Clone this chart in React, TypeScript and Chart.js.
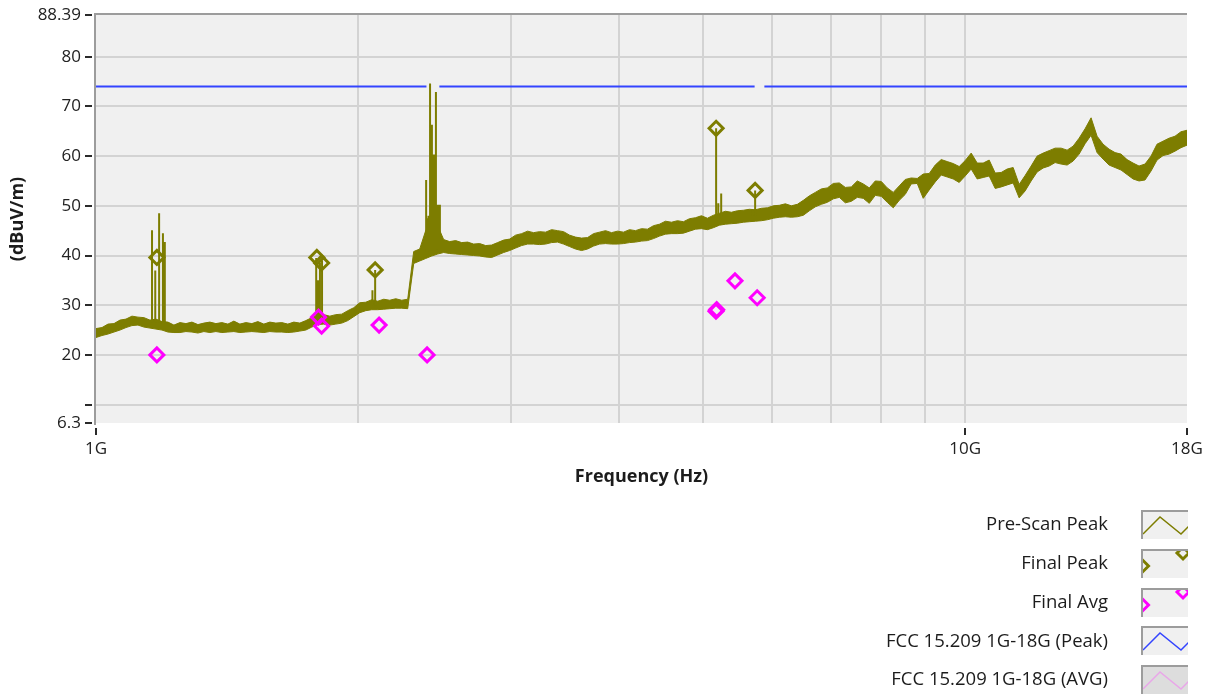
import { useEffect, useRef } from 'react';
import { Chart, registerables } from 'chart.js';

Chart.register(...registerables);

// ---- sweep settings -------------------------------------------------------
const START_HZ = 1e9;
const STOP_HZ = 18e9;
const GHZ = 1e9;

// Pre-scan peak trace: upper and lower edge of the swept band (dBuV/m),
// one value per sweep point; sweep points are spaced evenly in log frequency.
const preScanUpper = [
  25.3, 25.5, 26.2, 26.3, 27.0, 27.2, 27.8, 27.6, 27.5, 27.0,
  27.2, 26.7, 26.6, 26.0, 26.5, 26.3, 26.6, 26.1, 26.4, 26.6,
  26.3, 26.5, 26.2, 26.8, 26.2, 26.5, 26.3, 26.7, 26.2, 26.6,
  26.4, 26.5, 26.2, 26.6, 26.4, 26.9, 27.5, 28.0, 28.1, 27.8,
  28.1, 28.2, 28.9, 29.5, 30.5, 30.6, 31.1, 30.8, 31.2, 31.0,
  31.3, 31.0, 31.2, 40.8, 41.3, 45.0, 47.0, 46.0, 43.2, 42.8,
  43.0, 42.6, 42.7, 42.3, 42.4, 42.0, 42.1, 42.6, 43.1, 43.3,
  44.1, 44.4, 44.9, 44.6, 44.8, 44.7, 45.2, 45.0, 44.8, 44.1,
  43.7, 43.5, 43.6, 44.4, 44.7, 45.0, 44.6, 44.9, 44.7, 45.2,
  45.0, 45.4, 45.3, 46.0, 46.3, 46.9, 46.7, 47.0, 46.8, 47.4,
  47.6, 48.0, 47.5, 48.1, 48.5, 48.9, 48.7, 49.0, 49.1, 49.3,
  49.2, 49.5, 49.6, 50.0, 50.1, 50.4, 50.0, 50.3, 51.1, 52.0,
  52.7, 53.4, 53.6, 54.5, 54.6, 53.7, 53.8, 55.0, 54.4, 53.6,
  55.0, 54.9, 53.6, 52.7, 54.0, 55.3, 55.6, 55.5, 56.4, 56.5,
  58.2, 59.3, 58.9, 58.5, 57.9, 59.1, 60.6, 58.6, 58.6, 59.2,
  56.6, 56.7, 57.4, 57.7, 54.3, 56.1, 58.0, 60.0, 60.6, 61.1,
  61.6, 61.6, 61.2, 62.0, 63.6, 65.5, 67.7, 64.0, 62.4, 61.4,
  60.7, 60.4, 59.3, 58.6, 58.0, 58.4, 60.0, 62.4, 63.0, 63.6,
  64.0, 64.9, 65.2,
];

const preScanLower = [
  23.5, 23.9, 24.2, 24.6, 25.0, 25.5, 25.9, 26.0, 25.6, 25.4,
  25.2, 25.0, 24.6, 24.5, 24.5, 24.7, 24.6, 24.4, 24.7, 24.5,
  24.7, 24.5, 24.6, 24.7, 24.5, 24.6, 24.7, 24.6, 24.5, 24.7,
  24.6, 24.6, 24.5, 24.6, 24.8, 25.0, 25.6, 26.1, 26.2, 26.0,
  26.2, 26.4, 26.9, 27.7, 28.5, 28.9, 29.1, 29.1, 29.2, 29.3,
  29.4, 29.4, 29.3, 38.4, 38.9, 39.4, 39.9, 40.3, 40.6, 40.4,
  40.3, 40.2, 40.1, 40.0, 39.9, 39.7, 39.6, 40.1, 40.6, 41.0,
  41.5, 42.0, 42.3, 42.3, 42.2, 42.3, 42.6, 42.7, 42.3, 41.8,
  41.3, 41.0, 41.3, 41.9, 42.3, 42.4, 42.3, 42.3, 42.4, 42.6,
  42.7, 42.9, 43.0, 43.4, 43.9, 44.3, 44.4, 44.4, 44.5, 44.9,
  45.3, 45.4, 45.2, 45.6, 46.1, 46.3, 46.4, 46.5, 46.7, 46.8,
  46.9, 47.0, 47.2, 47.5, 47.7, 47.8, 47.7, 47.8, 48.1, 49.0,
  49.8, 50.3, 50.7, 51.4, 51.7, 50.6, 50.9, 51.7, 51.5, 50.5,
  52.1, 51.9, 50.7, 49.6, 51.1, 52.3, 54.4, 54.5, 51.5, 53.2,
  54.8, 56.2, 55.8, 55.4, 54.7, 56.0, 57.4, 55.4, 55.7, 56.0,
  53.5, 53.8, 54.2, 54.6, 51.6, 53.0, 55.0, 56.8, 57.6, 58.0,
  58.7, 58.4, 58.2, 59.0, 60.4, 62.5, 64.2, 60.7, 59.4, 58.2,
  57.7, 57.2, 56.3, 55.4, 55.0, 55.2, 57.0, 59.2, 60.1, 60.4,
  61.0, 61.7, 62.2,
];

// Narrow emissions standing out of the pre-scan floor
const spikeFreqGHz = [
  1.160, 1.170, 1.182, 1.194, 1.200,
  1.792, 1.801, 1.810, 1.820,
  2.080, 2.095,
  2.398, 2.405, 2.413, 2.423, 2.430, 2.435, 2.442, 2.448, 2.455, 2.461, 2.468, 2.474, 2.480, 2.487,
  5.170, 5.200, 5.240, 5.696, 5.733,
];
const spikeFloor = [
  26.5, 26.5, 26.5, 26.2, 26.2,
  26.5, 26.8, 27.0, 27.0,
  30.0, 30.0,
  40.5, 40.5, 40.8, 41.0, 41.0, 41.0, 41.0, 41.0, 41.0, 41.0, 41.2, 41.5, 41.5, 41.5,
  46.8, 47.0, 47.3, 48.0, 48.0,
];
const spikeTop = [
  45.1, 37.0, 48.5, 44.5, 42.7,
  39.5, 35.0, 38.5, 39.0,
  33.0, 37.1,
  55.2, 47.5, 48.0, 74.6, 49.0, 66.3, 47.8, 60.3, 48.5, 72.9, 47.5, 50.2, 46.5, 50.2,
  65.6, 50.5, 52.5, 49.1, 53.1,
];

// Final measurements
const finalPeakFreqGHz = [1.175, 1.795, 1.818, 2.095, 5.170, 5.733];
const finalPeakLevel = [39.6, 39.6, 38.5, 37.1, 65.6, 53.1];

const finalAvgFreqGHz = [1.175, 1.803, 1.818, 2.117, 2.404, 5.168, 5.178, 5.435, 5.764];
const finalAvgLevel = [20.0, 27.6, 25.8, 26.0, 20.0, 28.8, 29.1, 34.9, 31.5];

// FCC 15.209 limits (gaps where the limit line is not defined)
const limitPeakFreqGHz = [1, 2.4, 2.4, 2.4835, 5.725, 5.725, 5.875, 18];
const limitPeakLevel = [74, 74, null, 74, 74, null, 74, 74];
const limitAvgFreqGHz = [1, 18];
const limitAvgLevel = [54, 54];

// Axis ticks
const xGridGHz = [1, 2, 3, 4, 5, 6, 7, 8, 9, 10, 18];
const xGridLabels = ['1G', '', '', '', '', '', '', '', '', '10G', '18G'];
const xMarkedGHz = [1, 10, 18];
const yTickValues = [6.3, 10, 20, 30, 40, 50, 60, 70, 80, 88.39];
const yTickLabels = ['6.3', '', '20', '30', '40', '50', '60', '70', '80', '88.39'];

const legendLabels = [
  'Pre-Scan Peak',
  'Final Peak',
  'Final Avg',
  'FCC 15.209 1G-18G (Peak)',
  'FCC 15.209 1G-18G (AVG)',
];

// ---- styling --------------------------------------------------------------
const FONT = '"Open Sans", "Noto Sans", sans-serif';
const OLIVE = '#7d7d00';
const MAGENTA = '#ff00ff';
const BLUE = '#3344ff';
const PINK = '#e9a6e9';
const PLOT_BG = '#f0f0f0';
const GRID = '#d3d3d3';
const FRAME = '#9c9c9c';
const TEXT = '#1c1c1c';
const TRANSPARENT = 'rgba(0,0,0,0)';

const legendKinds = [
  { kind: 'line', color: OLIVE, dim: false },
  { kind: 'marker', color: OLIVE, dim: false },
  { kind: 'marker', color: MAGENTA, dim: false },
  { kind: 'line', color: BLUE, dim: false },
  { kind: 'line', color: PINK, dim: true },
];

const plotFrame = {
  id: 'plotFrame',
  beforeDraw(chart: any) {
    const { ctx, chartArea: a } = chart;
    ctx.save();
    ctx.fillStyle = PLOT_BG;
    ctx.fillRect(a.left, a.top, a.right - a.left, a.bottom - a.top);
    ctx.restore();
  },
  beforeDatasetsDraw(chart: any) {
    const { ctx, chartArea: a } = chart;
    ctx.save();
    ctx.strokeStyle = FRAME;
    ctx.lineWidth = 2;
    ctx.beginPath();
    ctx.moveTo(a.left - 1, a.bottom + 2);
    ctx.lineTo(a.left - 1, a.top - 1);
    ctx.lineTo(a.right, a.top - 1);
    ctx.stroke();
    ctx.restore();
  },
};

// Short dashes next to the labelled ticks, set off from the plot edge
const tickMarks = {
  id: 'tickMarks',
  afterDraw(chart: any) {
    const { ctx, chartArea: a, scales } = chart;
    ctx.save();
    ctx.fillStyle = '#2a2a2a';
    for (const v of yTickValues) {
      const y = Math.round(scales.y.getPixelForValue(v));
      ctx.fillRect(a.left - 11, y - 1, 7, 2);
    }
    for (const g of xMarkedGHz) {
      const x = Math.round(scales.x.getPixelForValue(g * GHZ));
      ctx.fillRect(x - 1, a.bottom + 5, 2, 7);
    }
    ctx.restore();
  },
};

function diamond(ctx: CanvasRenderingContext2D, cx: number, cy: number, r: number) {
  ctx.beginPath();
  ctx.moveTo(cx, cy - r);
  ctx.lineTo(cx + r, cy);
  ctx.lineTo(cx, cy + r);
  ctx.lineTo(cx - r, cy);
  ctx.closePath();
  ctx.stroke();
}

// Legend: right-aligned names with a small sunken swatch box on the right
const legendPanel = {
  id: 'legendPanel',
  afterDraw(chart: any) {
    const ctx: CanvasRenderingContext2D = chart.ctx;
    const textRight = 1108;
    const bx = 1141;
    const bw = 47;
    const bh = 29;
    ctx.save();
    legendLabels.forEach((label, k) => {
      const cy = 525 + k * 38.75;
      const style = legendKinds[k];
      ctx.font = `18.5px ${FONT}`;
      ctx.textAlign = 'right';
      ctx.textBaseline = 'middle';
      ctx.fillStyle = TEXT;
      ctx.fillText(label, textRight, cy);

      const by = Math.round(cy - 15);
      ctx.fillStyle = style.dim ? '#dddddd' : PLOT_BG;
      ctx.fillRect(bx, by, bw, bh);
      ctx.strokeStyle = FRAME;
      ctx.lineWidth = 2;
      ctx.beginPath();
      ctx.moveTo(bx + 1, by + bh);
      ctx.lineTo(bx + 1, by + 1);
      ctx.lineTo(bx + bw, by + 1);
      ctx.stroke();

      ctx.save();
      ctx.beginPath();
      ctx.rect(bx + 2, by + 2, bw - 2, bh - 2);
      ctx.clip();
      ctx.strokeStyle = style.color;
      if (style.kind === 'line') {
        ctx.lineWidth = 1.5;
        ctx.beginPath();
        ctx.moveTo(bx + 2, by + 24);
        ctx.lineTo(bx + 19, by + 7);
        ctx.lineTo(bx + 40, by + 24);
        ctx.lineTo(bx + 48, by + 16);
        ctx.stroke();
      } else {
        ctx.lineWidth = 3;
        diamond(ctx, bx + 1, by + 17, 6.5);
        diamond(ctx, bx + 42, by + 4, 6);
      }
      ctx.restore();
    });
    ctx.restore();
  },
};

// Keep the plot rectangle fixed: no extra room reserved for end labels
function noEndPadding(scale: any) {
  scale.paddingLeft = 0;
  scale.paddingRight = 0;
  scale.paddingTop = 0;
  scale.paddingBottom = 0;
}

export default function App() {
  const canvasRef = useRef<HTMLCanvasElement | null>(null);

  useEffect(() => {
    const canvas = canvasRef.current;
    if (!canvas) return;

    const n = preScanUpper.length;
    const sweepHz = preScanUpper.map((_, i) => START_HZ * Math.pow(STOP_HZ / START_HZ, i / (n - 1)));
    const upperPts = preScanUpper.map((v, i) => ({ x: sweepHz[i], y: v }));
    const lowerPts = preScanLower.map((v, i) => ({ x: sweepHz[i], y: v }));

    const spikePts: { x: number; y: number | null }[] = [];
    spikeFreqGHz.forEach((f, i) => {
      spikePts.push({ x: f * GHZ, y: spikeFloor[i] });
      spikePts.push({ x: f * GHZ, y: spikeTop[i] });
      spikePts.push({ x: f * GHZ, y: null });
    });

    const peakPts = finalPeakFreqGHz.map((f, i) => ({ x: f * GHZ, y: finalPeakLevel[i] }));
    const avgPts = finalAvgFreqGHz.map((f, i) => ({ x: f * GHZ, y: finalAvgLevel[i] }));
    const limitPts = limitPeakFreqGHz.map((f, i) => ({ x: f * GHZ, y: limitPeakLevel[i] }));
    const limitAvgPts = limitAvgFreqGHz.map((f, i) => ({ x: f * GHZ, y: limitAvgLevel[i] }));

    const markerStyle = (color: string) => ({
      showLine: false,
      pointStyle: 'rectRot' as const,
      pointRadius: 7,
      pointBorderWidth: 3,
      pointBorderColor: color,
      pointBackgroundColor: TRANSPARENT,
      borderColor: color,
      backgroundColor: TRANSPARENT,
    });

    const chart = new Chart(canvas, {
      type: 'line',
      data: {
        datasets: [
          { label: legendLabels[2], data: avgPts, order: 0, ...markerStyle(MAGENTA) },
          { label: legendLabels[1], data: peakPts, order: 1, ...markerStyle(OLIVE) },
          {
            label: legendLabels[3],
            data: limitPts,
            order: 2,
            borderColor: BLUE,
            borderWidth: 2,
            pointRadius: 0,
            spanGaps: false,
            fill: false,
          },
          {
            label: legendLabels[4],
            data: limitAvgPts,
            order: 3,
            hidden: true,
            borderColor: PINK,
            borderWidth: 2,
            pointRadius: 0,
            fill: false,
          },
          {
            label: 'Pre-Scan Peak spikes',
            data: spikePts,
            order: 4,
            borderColor: OLIVE,
            borderWidth: 2,
            pointRadius: 0,
            spanGaps: false,
            fill: false,
          },
          {
            label: legendLabels[0],
            data: upperPts,
            order: 5,
            borderColor: OLIVE,
            borderWidth: 1,
            backgroundColor: OLIVE,
            pointRadius: 0,
            fill: '+1',
          },
          {
            label: 'Pre-Scan Peak lower',
            data: lowerPts,
            order: 6,
            borderColor: OLIVE,
            borderWidth: 1,
            pointRadius: 0,
            fill: false,
          },
        ],
      },
      options: {
        animation: false,
        responsive: false,
        maintainAspectRatio: false,
        layout: { padding: { top: 15, right: 25, bottom: 206, left: 0 } },
        plugins: {
          legend: { display: false },
          tooltip: { enabled: false },
        },
        scales: {
          x: {
            type: 'logarithmic',
            min: START_HZ,
            max: STOP_HZ,
            afterFit(scale: any) {
              scale.height = 67;
              noEndPadding(scale);
            },
            afterBuildTicks(scale: any) {
              scale.ticks = xGridGHz.map((g) => ({ value: g * GHZ }));
            },
            ticks: {
              autoSkip: false,
              maxRotation: 0,
              padding: 16,
              color: '#222',
              font: { family: FONT, size: 17 },
              callback: (_v: any, i: number) => xGridLabels[i],
            },
            grid: {
              drawTicks: false,
              lineWidth: 2,
              color: (c: any) => (c.index === 0 || c.index === xGridGHz.length - 1 ? TRANSPARENT : GRID),
            },
            border: { display: false },
            title: {
              display: true,
              text: 'Frequency (Hz)',
              color: TEXT,
              font: { family: FONT, size: 18, weight: 'bold' },
              padding: { top: 0, bottom: 2 },
            },
          },
          y: {
            type: 'linear',
            min: 6.3,
            max: 88.39,
            afterFit(scale: any) {
              scale.width = 96;
              noEndPadding(scale);
            },
            afterBuildTicks(scale: any) {
              scale.ticks = yTickValues.map((v) => ({ value: v }));
            },
            ticks: {
              autoSkip: false,
              padding: 15,
              color: '#222',
              font: { family: FONT, size: 17 },
              callback: (_v: any, i: number) => yTickLabels[i],
            },
            grid: {
              drawTicks: false,
              lineWidth: 2,
              color: (c: any) => (c.index === 0 || c.index === yTickValues.length - 1 ? TRANSPARENT : GRID),
            },
            border: { display: false },
            title: {
              display: true,
              text: '(dBuV/m)',
              color: TEXT,
              font: { family: FONT, size: 18, weight: 'bold' },
              padding: { top: 7, bottom: 0 },
            },
          },
        },
      },
      plugins: [plotFrame, tickMarks, legendPanel],
    } as any);

    return () => chart.destroy();
  }, []);

  return (
    <div style={{ position: 'absolute', left: 0, top: 0, width: 1212, height: 696, background: '#fff' }}>
      <canvas ref={canvasRef} width={1212} height={696} style={{ display: 'block', width: 1212, height: 696 }} />
    </div>
  );
}
